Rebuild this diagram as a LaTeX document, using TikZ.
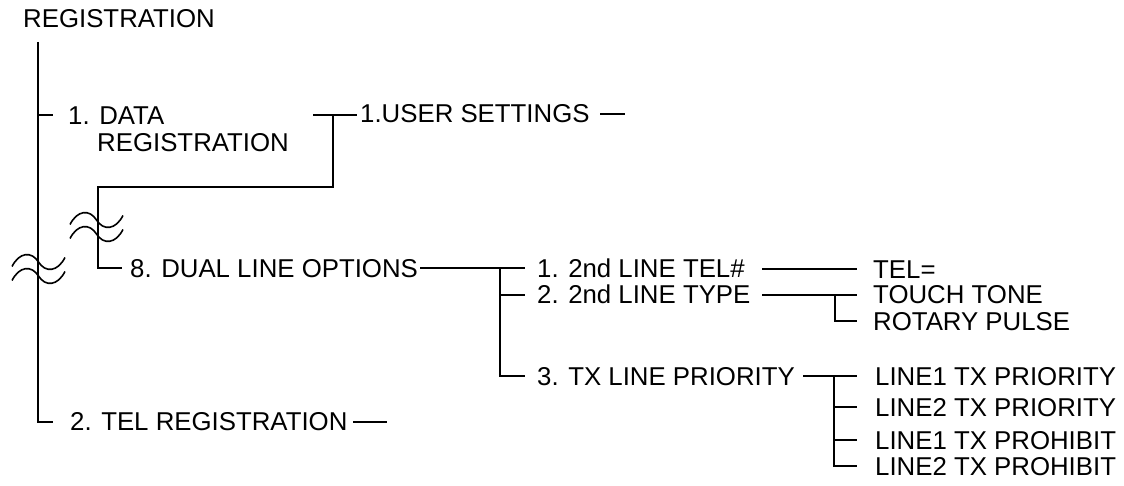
\documentclass[tikz,border=0pt]{standalone}
\usepackage{fontspec}
\setmainfont{Liberation Sans}
\begin{document}
\begin{tikzpicture}[x=1pt,y=-1pt,
  lbl/.style={anchor=base west,inner sep=0pt,font=\fontsize{25.8}{27}\selectfont,text=black},
  conn/.style={draw=black,line width=1.2pt},
  brkline/.style={draw=black,line width=1.6pt},
  brk/.pic={
    \draw[brkline] (-26.5,4.5) .. controls (-19,-10) and (-7,-11) .. (0,0) .. controls (7,11) and (19,10) .. (26.5,-4.5);
    \draw[brkline] (-26.5,18.5) .. controls (-19,4) and (-7,3) .. (0,14) .. controls (7,25) and (19,24) .. (26.5,9.5);
  }]
\useasboundingbox (0,0) rectangle (1124,486);

% texts
\node[lbl] (root) at (23,28) {REGISTRATION};
\node[lbl] (data1) at (68,125) {1. DATA};
\node[lbl] (data2) at (97,152) {REGISTRATION};
\node[lbl] (user) at (360,123) {1.USER SETTINGS};
\node[lbl] (opts) at (130,277) {8. DUAL LINE OPTIONS};
\node[lbl] (telreg) at (70,430) {2. TEL REGISTRATION};
\node[lbl] (tel2) at (537,278) {1. 2nd LINE TEL\#};
\node[lbl] (type2) at (537,304) {2. 2nd LINE TYPE};
\node[lbl] (txp) at (537,385) {3. TX LINE PRIORITY};
\node[lbl] (telq) at (873,279) {TEL=};
\node[lbl] (touch) at (873,304) {TOUCH TONE};
\node[lbl] (rotary) at (873,330) {ROTARY PULSE};
\node[lbl] (lap) at (875,385) {LINE1 TX PRIORITY};
\node[lbl] (lbp) at (875,416) {LINE2 TX PRIORITY};
\node[lbl] (lax) at (875,449) {LINE1 TX PROHIBIT};
\node[lbl] (lbx) at (875,475) {LINE2 TX PROHIBIT};

% main trunk
\coordinate (tTop) at (38,42);
\coordinate (tD) at (38,115);
\coordinate (tDe) at (53,115);
\coordinate (tB) at (38,422);
\coordinate (tBe) at (53,422);
\draw[conn] (tTop) -- (tB) -- (tBe);
\draw[conn] (tD) -- (tDe);

% data registration -> user settings / dual line options
\coordinate (d0) at (313,115);
\coordinate (d1) at (357,115);
\coordinate (dj) at (333,115);
\coordinate (dc) at (333,187);
\coordinate (e0) at (98,187);
\coordinate (e1) at (98,268);
\coordinate (e2) at (122,268);
\draw[conn] (d0) -- (d1);
\draw[conn] (dj) -- (dc) -- (e0) -- (e1) -- (e2);

% trailing dashes
\coordinate (u0) at (600,114);
\coordinate (u1) at (625,114);
\draw[conn] (u0) -- (u1);
\coordinate (r0) at (353,422);
\coordinate (r1) at (387,422);
\draw[conn] (r0) -- (r1);

% dual line options branches
\coordinate (o0) at (420,268);
\coordinate (o1) at (525,268);
\coordinate (oj) at (500,268);
\coordinate (oa) at (500,295);
\coordinate (oae) at (525,295);
\coordinate (ob) at (500,376);
\coordinate (obe) at (525,376);
\draw[conn] (o0) -- (o1);
\draw[conn] (oj) -- (ob) -- (obe);
\draw[conn] (oa) -- (oae);

% 2nd line tel#
\coordinate (p0) at (762,269);
\coordinate (p1) at (857,269);
\draw[conn] (p0) -- (p1);

% 2nd line type
\coordinate (q0) at (762,295);
\coordinate (q1) at (857,295);
\coordinate (qj) at (835,295);
\coordinate (qb) at (835,321);
\coordinate (qbe) at (857,321);
\draw[conn] (q0) -- (q1);
\draw[conn] (qj) -- (qb) -- (qbe);

% tx line priority
\coordinate (s0) at (803,376);
\coordinate (s1) at (857,376);
\coordinate (sj) at (834,376);
\coordinate (sb) at (834,407);
\coordinate (sbe) at (857,407);
\coordinate (sc) at (834,440);
\coordinate (sce) at (857,440);
\coordinate (sd) at (834,466);
\coordinate (sde) at (857,466);
\draw[conn] (s0) -- (s1);
\draw[conn] (sj) -- (sd) -- (sde);
\draw[conn] (sb) -- (sbe);
\draw[conn] (sc) -- (sce);

% break marks
\pic at (38.5,262) {brk};
\pic at (96.5,220) {brk};
\end{tikzpicture}
\end{document}
